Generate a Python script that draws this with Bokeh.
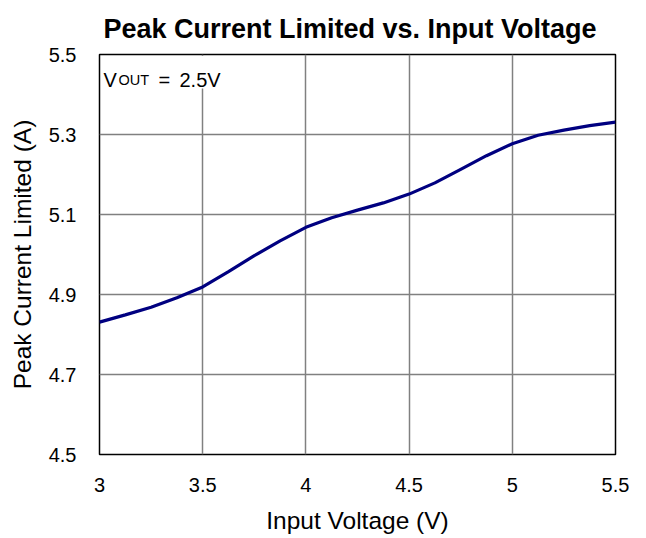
from bokeh.plotting import figure
from bokeh.models import FixedTicker, Label, BoxAnnotation, Range1d
from bokeh.embed import file_html
from bokeh.resources import INLINE

input_voltage = [3.0, 3.125, 3.25, 3.375, 3.5, 3.625, 3.75, 3.875, 4.0, 4.125,
                 4.25, 4.375, 4.5, 4.625, 4.75, 4.875, 5.0, 5.125, 5.25, 5.375, 5.5]
peak_current = [4.831, 4.849, 4.868, 4.892, 4.919, 4.957, 4.997, 5.034, 5.068, 5.092,
                5.111, 5.129, 5.151, 5.179, 5.213, 5.247, 5.277, 5.298, 5.311, 5.322, 5.331]

x_ticks = [3, 3.5, 4, 4.5, 5, 5.5]
x_tick_labels = ["3", "3.5", "4", "4.5", "5", "5.5"]
y_ticks = [4.5, 4.7, 4.9, 5.1, 5.3, 5.5]
y_tick_labels = ["4.5", "4.7", "4.9", "5.1", "5.3", "5.5"]

FONT = "Liberation Sans"

p = figure(width=646, height=538, output_backend="svg", toolbar_location=None,
           x_range=Range1d(3, 5.5), y_range=Range1d(4.5, 5.5),
           title="Peak Current Limited vs. Input Voltage",
           min_border_left=99, min_border_right=31, min_border_top=54, min_border_bottom=84)

p.title.text_font = FONT
p.title.text_font_size = "27px"
p.title.text_font_style = "bold"
p.title.align = "left"
p.title.offset = 4
p.title.standoff = 21
p.title.text_color = "black"

p.outline_line_color = "black"
p.outline_line_width = 1.5
p.outline_line_alpha = 1.0

for ax, ticks, labels in ((p.xaxis[0], x_ticks, x_tick_labels), (p.yaxis[0], y_ticks, y_tick_labels)):
    ax.ticker = FixedTicker(ticks=ticks)
    ax.major_label_overrides = {t: l for t, l in zip(ticks, labels)}
    ax.major_tick_line_color = None
    ax.minor_tick_line_color = None
    ax.axis_line_color = None
    ax.major_label_text_font = FONT
    ax.major_label_text_font_size = "20px"
    ax.major_label_text_color = "black"
    ax.axis_label_text_font = FONT
    ax.axis_label_text_font_size = "24.5px"
    ax.axis_label_text_font_style = "normal"
    ax.axis_label_text_color = "black"

p.xaxis.axis_label = "Input Voltage (V)"
p.yaxis.axis_label = "Peak Current Limited (A)"
p.xaxis.major_label_standoff = 17
p.xaxis.axis_label_standoff = 12
p.yaxis.major_label_standoff = 17
p.yaxis.axis_label_standoff = 10

for g in (p.xgrid[0], p.ygrid[0]):
    g.grid_line_color = "#808080"
    g.grid_line_width = 1.5

p.line(input_voltage, peak_current, line_color="#000080", line_width=3.2)

p.add_layout(BoxAnnotation(left=3.008, right=3.61, top=5.496, bottom=5.415,
                           fill_color="white", fill_alpha=1.0, line_color=None))

p.add_layout(Label(x=3, y=5.437, x_offset=4, text="V", text_font=FONT,
                   text_font_size="20px", text_baseline="alphabetic", text_color="black"))
p.add_layout(Label(x=3, y=5.437, x_offset=19, text="OUT", text_font=FONT,
                   text_font_size="14.5px", text_baseline="alphabetic", text_color="black"))
p.add_layout(Label(x=3, y=5.437, x_offset=59, text="=", text_font=FONT,
                   text_font_size="20px", text_baseline="alphabetic", text_color="black"))
p.add_layout(Label(x=3, y=5.437, x_offset=80, text="2.5V", text_font=FONT,
                   text_font_size="20px", text_baseline="alphabetic", text_color="black"))

open("out.html", "w").write(file_html(p, INLINE))
